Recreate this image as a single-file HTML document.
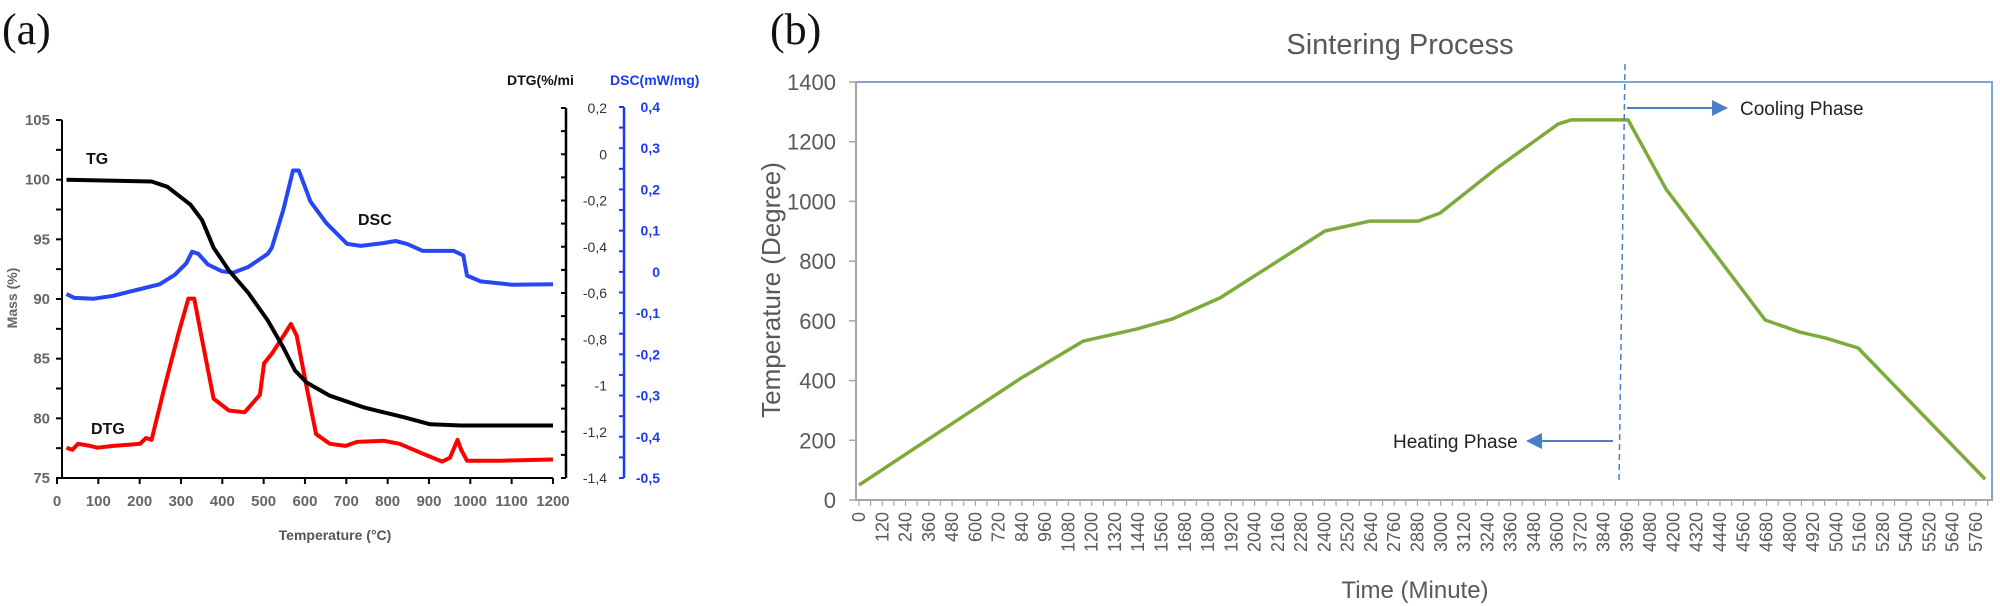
<!DOCTYPE html>
<html><head><meta charset="utf-8"><style>
html,body{margin:0;padding:0;background:#fff;}
svg{display:block;}
</style></head><body>
<svg id="fig" width="2000" height="606" viewBox="0 0 2000 606" xmlns="http://www.w3.org/2000/svg">
<text x="2" y="44" font-family="Liberation Serif, serif" font-size="44" fill="#111">(a)</text>
<text x="770" y="44" font-family="Liberation Serif, serif" font-size="44" fill="#111">(b)</text>
<g id="left"></g>
<g id="right"></g>
</svg>
<script>
// ---- Panel (a) data ----
const tgTemp = [23,229,267,323,351,379,416,463,510,548,576,604,660,744,838,903,978,1200];
const tgMass = [100,99.85,99.4,97.9,96.6,94.3,92.4,90.5,88.2,85.9,84.0,83.0,81.9,80.9,80.1,79.5,79.4,79.4];
const dscTemp = [23,42,89,136,192,248,285,313,327,342,365,398,426,463,510,520,548,571,585,613,651,702,735,791,819,847,885,960,983,992,1025,1100,1200];
const dscVal = [-0.054,-0.063,-0.065,-0.058,-0.044,-0.030,-0.007,0.021,0.049,0.044,0.018,0.002,-0.002,0.012,0.044,0.059,0.152,0.246,0.246,0.171,0.119,0.068,0.063,0.070,0.075,0.068,0.051,0.051,0.040,-0.009,-0.023,-0.031,-0.030];
const dtgTemp = [23,37,51,80,98,136,201,215,229,258,295,318,332,351,379,416,454,491,501,520,548,566,580,604,627,660,698,726,791,829,885,932,951,969,978,992,1072,1200];
const dtgVal = [-1.269,-1.278,-1.252,-1.261,-1.269,-1.261,-1.252,-1.227,-1.235,-1.023,-0.768,-0.624,-0.624,-0.802,-1.057,-1.108,-1.116,-1.040,-0.904,-0.862,-0.785,-0.734,-0.785,-1.006,-1.210,-1.252,-1.261,-1.244,-1.239,-1.252,-1.295,-1.329,-1.312,-1.235,-1.278,-1.325,-1.325,-1.320];
const xTicksA = [0,100,200,300,400,500,600,700,800,900,1000,1100,1200];
const massTicks = [75,80,85,90,95,100,105];
const dtgTicks = [0.2,0,-0.2,-0.4,-0.6,-0.8,-1,-1.2,-1.4];
const dscTicks = [0.4,0.3,0.2,0.1,0,-0.1,-0.2,-0.3,-0.4,-0.5];
// ---- Panel (b) data ----
const sinTime = [0,420,840,1155,1434,1614,1862,2403,2635,2883,2996,3290,3605,3672,3966,4162,4673,4853,4987,5152,5807];
const sinTemp = [50,230,410,532,573,606,677,901,934,934,961,1112,1259,1273,1273,1041,603,562,542,509,70];
const tempTicks = [0,200,400,600,800,1000,1200,1400];
const timeTicks = [];
for (let t = 0; t <= 5760; t += 120) timeTicks.push(t);

const NS = 'http://www.w3.org/2000/svg';
function mk(tag, attrs, parent, txt){const e=document.createElementNS(NS,tag);for(const k in attrs)e.setAttribute(k,attrs[k]);if(txt!==undefined)e.textContent=txt;parent.appendChild(e);return e;}
const fmt = v => (Math.round(v*10)/10).toString().replace('.',',');

// ===== Panel A =====
const A = document.getElementById('left');
const ax = t => 57 + t*0.4133;
const ym = m => 478 - (m-75)*(358/30);
const yd = v => 478 - (v+1.4)*(370/1.6);
const ys = v => 478 - (v+0.5)*(371/0.9);
const fA = 'Liberation Sans, sans-serif';
let e = mk('line',{x1:62,y1:ym(105),x2:62,y2:478,stroke:'#000','stroke-width':2},A);
 
for (let m=75;m<=105;m+=2.5){ mk('line',{x1:56,x2:62,y1:ym(m),y2:ym(m),stroke:'#000','stroke-width':2},A); }
massTicks.forEach(m=>{ e=mk('text',{x:50,y:ym(m)+5,'text-anchor':'end','font-family':fA,'font-weight':'bold','font-size':15,fill:'#666'},A,String(m));
    });
e = mk('line',{x1:62,y1:478,x2:ax(1200),y2:478,stroke:'#000','stroke-width':2},A);
 
xTicksA.forEach(t=>{ mk('line',{x1:ax(t),x2:ax(t),y1:478,y2:484,stroke:'#000','stroke-width':2},A);
  e=mk('text',{x:ax(t),y:506,'text-anchor':'middle','font-family':fA,'font-weight':'bold','font-size':15,fill:'#666'},A,String(t));
    });
e = mk('text',{x:335,y:540,'text-anchor':'middle','font-family':fA,'font-weight':'bold','font-size':14,fill:'#555'},A,'Temperature (°C)');
 
e = mk('text',{x:0,y:0,transform:'translate(17,298) rotate(-90)','text-anchor':'middle','font-family':fA,'font-weight':'bold','font-size':14,fill:'#666'},A,'Mass (%)');
 
// DTG axis
e = mk('line',{x1:566,y1:yd(0.2),x2:566,y2:478,stroke:'#000','stroke-width':2.5},A);
 
for (let v=0.2; v>=-1.41; v-=0.1){ mk('line',{x1:561,x2:566,y1:yd(v),y2:yd(v),stroke:'#000','stroke-width':2},A); }
dtgTicks.forEach(v=>{ e=mk('text',{x:607,y:yd(v)+5,'text-anchor':'end','font-family':fA,'font-size':14,fill:'#333'},A,fmt(v));
    });
e = mk('text',{x:507,y:85,'font-family':fA,'font-weight':'bold','font-size':14,fill:'#111'},A,'DTG(%/mi');
 
// DSC axis
e = mk('line',{x1:624,y1:ys(0.4),x2:624,y2:478,stroke:'#1a3cf0','stroke-width':2.5},A);
 
for (let v=0.4; v>=-0.51; v-=0.05){ mk('line',{x1:619,x2:624,y1:ys(v),y2:ys(v),stroke:'#1a3cf0','stroke-width':2},A); }
dscTicks.forEach(v=>{ e=mk('text',{x:660,y:ys(v)+5,'text-anchor':'end','font-family':fA,'font-weight':'bold','font-size':14,fill:'#1a3cf0'},A,fmt(v));
    });
e = mk('text',{x:610,y:85,'font-family':fA,'font-weight':'bold','font-size':14,fill:'#1a3cf0'},A,'DSC(mW/mg)');
 
function path(xs,ys_,fx,fy){return xs.map((x,i)=>(i?'L':'M')+fx(x).toFixed(1)+','+fy(ys_[i]).toFixed(1)).join(' ');}
e = mk('path',{d:path(dscTemp,dscVal,ax,ys),fill:'none',stroke:'#2746f5','stroke-width':4,'stroke-linejoin':'round'},A);
 
e = mk('path',{d:path(dtgTemp,dtgVal,ax,yd),fill:'none',stroke:'#ff0000','stroke-width':4,'stroke-linejoin':'round'},A);
 
e = mk('path',{d:path(tgTemp,tgMass,ax,ym),fill:'none',stroke:'#000','stroke-width':4,'stroke-linejoin':'round'},A);
 
e = mk('text',{x:86,y:164,'font-family':fA,'font-weight':'bold','font-size':16,fill:'#111'},A,'TG');
 
e = mk('text',{x:358,y:225,'font-family':fA,'font-weight':'bold','font-size':16,fill:'#111'},A,'DSC');
 
e = mk('text',{x:91,y:434,'font-family':fA,'font-weight':'bold','font-size':16,fill:'#111'},A,'DTG');
 

// ===== Panel B =====
const B = document.getElementById('right');
const bx = t => 859 + t*(23.27/120);
const by = v => 500 - v*(418/1400);
const fB = 'Liberation Sans, sans-serif';
e = mk('text',{x:1400,y:54,'text-anchor':'middle','font-family':fB,'font-size':29,fill:'#595959'},B,'Sintering Process');
 
e = mk('rect',{x:856,y:82,width:1136,height:418,fill:'none',stroke:'#7aa6d8','stroke-width':2},B);
 
e = mk('line',{x1:856,y1:82,x2:856,y2:500,stroke:'#a6a6a6','stroke-width':2},B);
 
e = mk('line',{x1:856,y1:500,x2:1992,y2:500,stroke:'#a6a6a6','stroke-width':2},B);
 
tempTicks.forEach(v=>{ mk('line',{x1:849,x2:856,y1:by(v),y2:by(v),stroke:'#a6a6a6','stroke-width':1.5},B);
  e=mk('text',{x:836,y:by(v)+8,'text-anchor':'end','font-family':fB,'font-size':22,fill:'#595959'},B,String(v));
    });
for (let t=0;t<=5820;t+=60){ mk('line',{x1:bx(t),x2:bx(t),y1:500,y2:506,stroke:'#a6a6a6','stroke-width':1.2},B); }
timeTicks.forEach(t=>{ e=mk('text',{x:0,y:0,transform:`translate(${(bx(t)+6).toFixed(1)},512) rotate(-90)`,'text-anchor':'end','font-family':fB,'font-size':18,fill:'#595959'},B,String(t));
    });
e = mk('text',{x:0,y:0,transform:'translate(780,290) rotate(-90)','text-anchor':'middle','font-family':fB,'font-size':26,fill:'#595959'},B,'Temperature (Degree)');
 
e = mk('text',{x:1415,y:598,'text-anchor':'middle','font-family':fB,'font-size':24,fill:'#595959'},B,'Time (Minute)');
 
e = mk('path',{d:path(sinTime,sinTemp,bx,by),fill:'none',stroke:'#7cab3c','stroke-width':3.5,'stroke-linejoin':'round'},B);
 
e = mk('line',{x1:1625,y1:64,x2:1619,y2:483,stroke:'#4a7fc8','stroke-width':1.5,'stroke-dasharray':'6,4'},B);
 
mk('defs',{},B).innerHTML='<marker id="ah" markerWidth="8" markerHeight="8" refX="6" refY="4" orient="auto"><path d="M0,0 L8,4 L0,8 z" fill="#4a7fc8"/></marker>';
e = mk('line',{x1:1627,y1:108,x2:1724,y2:108,stroke:'#4a7fc8','stroke-width':2,'marker-end':'url(#ah)'},B);
 
e = mk('text',{x:1740,y:115,'font-family':'Liberation Sans Narrow, Liberation Sans, sans-serif','font-size':19,fill:'#222'},B,'Cooling Phase');
 
e = mk('line',{x1:1613,y1:441,x2:1530,y2:441,stroke:'#4a7fc8','stroke-width':2,'marker-end':'url(#ah)'},B);
 
e = mk('text',{x:1393,y:448,'font-family':'Liberation Sans Narrow, Liberation Sans, sans-serif','font-size':19,fill:'#222'},B,'Heating Phase');
 
</script>
</body></html>
